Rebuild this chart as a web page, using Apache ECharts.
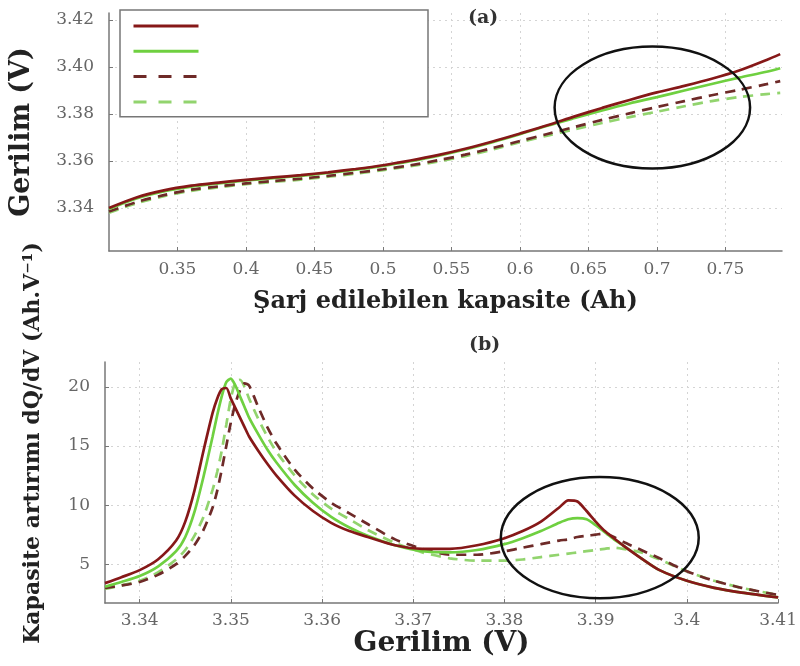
<!DOCTYPE html>
<html><head><meta charset="utf-8">
<script src="https://cdn.jsdelivr.net/npm/echarts@6/dist/echarts.min.js"></script>
<style>html,body{margin:0;padding:0;background:#fff}#c{width:800px;height:666px}</style>
</head><body><div id="c"></div>
<script>
// ---------- (a) Gerilim vs Şarj edilebilen kapasite ----------
const capacity = [0.30,0.32,0.34,0.36,0.38,0.40,0.42,0.44,0.46,0.48,0.50,0.52,0.54,0.56,0.58,0.60,0.62,0.64,0.66,0.68,0.70,0.72,0.74,0.76,0.78,0.79];
const vSolidRed   = [3.3400,3.3445,3.3475,3.3495,3.3508,3.3520,3.3530,3.3540,3.3552,3.3566,3.3582,3.3602,3.3625,3.3652,3.3683,3.3717,3.3752,3.3790,3.3826,3.3860,3.3892,3.3920,3.3950,3.3985,3.4030,3.4055];
const vSolidGreen = [3.3396,3.3441,3.3471,3.3491,3.3505,3.3517,3.3527,3.3537,3.3549,3.3563,3.3579,3.3599,3.3622,3.3649,3.3680,3.3714,3.3750,3.3783,3.3815,3.3845,3.3872,3.3900,3.3928,3.3955,3.3980,3.3995];
const vDashRed    = [3.3385,3.3425,3.3455,3.3478,3.3492,3.3505,3.3515,3.3525,3.3537,3.3550,3.3565,3.3582,3.3603,3.3627,3.3655,3.3685,3.3715,3.3745,3.3775,3.3803,3.3830,3.3855,3.3880,3.3903,3.3927,3.3940];
const vDashGreen  = [3.3380,3.3420,3.3450,3.3473,3.3488,3.3501,3.3511,3.3521,3.3533,3.3546,3.3561,3.3578,3.3598,3.3621,3.3649,3.3680,3.3708,3.3735,3.3762,3.3787,3.3810,3.3833,3.3855,3.3872,3.3885,3.3890];
const capTicks = [0.35,0.4,0.45,0.5,0.55,0.6,0.65,0.7,0.75];
const voltTicksA = [3.34,3.36,3.38,3.40,3.42];

// ---------- (b) dQ/dV vs Gerilim ----------
const voltage = [3.3362,3.338,3.340,3.342,3.344,3.345,3.346,3.347,3.348,3.3485,3.349,3.3495,3.350,3.3505,3.351,3.3515,3.352,3.353,3.354,3.355,3.357,3.359,3.361,3.363,3.365,3.368,3.371,3.374,3.377,3.380,3.382,3.384,3.386,3.387,3.388,3.389,3.390,3.391,3.392,3.393,3.395,3.397,3.400,3.403,3.406,3.410];
const qSolidRed   = [3.4,3.9,4.5,5.4,7.0,8.6,11.2,14.6,17.8,19.0,19.8,19.9,19.0,18.2,17.4,16.6,15.8,14.6,13.5,12.5,10.8,9.5,8.5,7.8,7.3,6.6,6.3,6.3,6.6,7.2,7.8,8.6,9.8,10.4,10.3,9.5,8.6,7.8,7.2,6.6,5.5,4.5,3.6,3.0,2.6,2.2];
const qSolidGreen = [3.1,3.5,4.0,4.8,6.1,7.3,9.4,12.4,15.8,17.6,19.2,20.4,20.7,20.1,19.2,18.3,17.4,16.0,14.7,13.6,11.7,10.2,9.0,8.1,7.4,6.6,6.1,6.0,6.2,6.7,7.2,7.8,8.5,8.8,8.9,8.8,8.3,7.7,7.1,6.6,5.5,4.5,3.6,3.0,2.6,2.2];
const qDashRed    = [3.0,3.2,3.5,4.1,5.0,5.7,6.6,7.9,9.8,11.2,13.0,15.0,17.0,18.6,19.7,20.3,20.1,18.3,16.6,15.2,13.0,11.4,10.2,9.3,8.4,7.1,6.3,5.8,5.8,6.1,6.4,6.7,7.0,7.1,7.3,7.4,7.5,7.6,7.3,6.9,6.2,5.5,4.4,3.6,3.0,2.4];
const qDashGreen  = [2.9,3.2,3.6,4.3,5.4,6.2,7.4,9.0,11.3,12.8,14.6,16.8,19.0,20.4,20.6,20.0,19.0,17.3,15.8,14.5,12.5,10.9,9.7,8.8,7.9,6.8,6.0,5.5,5.3,5.3,5.4,5.6,5.8,5.9,6.0,6.1,6.2,6.3,6.4,6.3,6.0,5.4,4.4,3.6,3.0,2.4];
const voltTicksB = [3.34,3.35,3.36,3.37,3.38,3.39,3.4,3.41];
const dqTicks = [5,10,15,20];

const seriesNames = ['Hücre 1','Hücre 2','Hücre 3','Hücre 4'];
const colors = ['#861818','#6fd040','#6e2a28','#92d46e'];
const styles = ['solid','solid',[10,7],[10,7]];
const legendStyles = ['solid','solid',[13,12],[13,12]];

const zip = (xs, ys) => xs.map((x, i) => [x, ys[i]]);
const serif = 'DejaVu Serif';

const chart = echarts.init(document.getElementById('c'), null, {renderer: 'canvas'});

function axisCommon(ticks, fmt, margin) {
  return {
    axisLine: {show: true, onZero: false, lineStyle: {color: '#777', width: 1.5}},
    axisTick: {show: true, inside: true, length: 4, customValues: ticks, lineStyle: {color: '#777'}},
    axisLabel: {customValues: ticks, formatter: fmt, margin: margin, fontFamily: serif, fontSize: 17, color: '#666'},
    splitLine: {show: true, lineStyle: {color: '#d4d4d4', type: [2, 4], width: 1}}
  };
}

const aData = [vSolidRed, vSolidGreen, vDashRed, vDashGreen];
const bData = [qSolidRed, qSolidGreen, qDashRed, qDashGreen];

const series = [];
for (let i = 0; i < 4; i++) {
  series.push({
    name: seriesNames[i], type: 'line', xAxisIndex: 0, yAxisIndex: 0,
    data: zip(capacity, aData[i]), showSymbol: false, symbol: 'none', smooth: 0.3,
    lineStyle: {color: colors[i], width: 2.7, type: styles[i]}, itemStyle: {color: colors[i]},
    z: 10 - i
  });
}
for (let i = 0; i < 4; i++) {
  series.push({
    name: seriesNames[i], type: 'line', xAxisIndex: 1, yAxisIndex: 1,
    data: zip(voltage, bData[i]), showSymbol: false, symbol: 'none', smooth: 0.25,
    lineStyle: {color: colors[i], width: 2.7, type: styles[i]}, itemStyle: {color: colors[i]},
    z: 10 - i
  });
}

chart.setOption({
  animation: false,
  backgroundColor: '#fff',
  textStyle: {fontFamily: serif},
  grid: [
    {left: 107, top: 13, width: 675, height: 238},
    {left: 105, top: 362, width: 677, height: 241}
  ],
  legend: {
    left: 120, top: 10, orient: 'vertical',
    data: seriesNames.map((n, i) => ({name: n, lineStyle: {type: legendStyles[i], width: 3}})),
    formatter: () => '',
    itemWidth: 65, itemHeight: 12, itemGap: 14.5,
    padding: [10, 228, 10, 12],
    backgroundColor: '#fff', borderColor: '#777', borderWidth: 1.5,
    itemStyle: {opacity: 0, borderWidth: 0},
    textStyle: {fontSize: 1},
    selectedMode: false
  },
  xAxis: [
    Object.assign({type: 'value', gridIndex: 0, min: 0.3, max: 0.7913,
      name: 'Şarj edilebilen kapasite (Ah)', nameLocation: 'middle', nameGap: 39,
      nameTextStyle: {fontFamily: serif, fontWeight: 'bold', fontSize: 24, color: '#222'}},
      axisCommon(capTicks, v => String(+v.toFixed(2)), 10)),
    Object.assign({type: 'value', gridIndex: 1, min: 3.3362, max: 3.41,
      name: 'Gerilim (V)', nameLocation: 'middle', nameGap: 27,
      nameTextStyle: {fontFamily: serif, fontWeight: 'bold', fontSize: 28, color: '#222'}},
      axisCommon(voltTicksB, v => String(+v.toFixed(2)), 9))
  ],
  yAxis: [
    Object.assign({type: 'value', gridIndex: 0, min: 3.3217, max: 3.423,
      name: 'Gerilim (V)', nameLocation: 'middle', nameGap: 74,
      nameTextStyle: {fontFamily: serif, fontWeight: 'bold', fontSize: 27, color: '#222'}},
      axisCommon(voltTicksA, v => v.toFixed(2), 15)),
    Object.assign({type: 'value', gridIndex: 1, min: 1.72, max: 22.1},
      axisCommon(dqTicks, v => String(v), 15))
  ],
  series: series
});

// annotations: panel labels, long y title, ellipses (positioned from data coordinates)
const p = (g, pt) => chart.convertToPixel({gridIndex: g}, pt);
function ellipseFrom(g, x0, x1, y0, y1) {
  const a = p(g, [x0, y0]), b = p(g, [x1, y1]);
  return {type: 'ellipse', silent: true, z: 50,
    shape: {cx: (a[0] + b[0]) / 2, cy: (a[1] + b[1]) / 2, rx: Math.abs(b[0] - a[0]) / 2, ry: Math.abs(b[1] - a[1]) / 2},
    style: {fill: 'none', stroke: '#111', lineWidth: 2.5}};
}
chart.setOption({
  graphic: [
    ellipseFrom(0, 0.6253, 0.768, 3.4087, 3.3568),
    ellipseFrom(1, 3.3796, 3.4013, 12.37, 2.12),
    {type: 'text', left: 468, top: 9, z: 60, style: {text: '(a)', font: 'bold 19px "DejaVu Serif"', fill: '#333'}},
    {type: 'text', left: 469, top: 336, z: 60, style: {text: '(b)', font: 'bold 19px "DejaVu Serif"', fill: '#333'}},
    {type: 'text', x: 33, y: 443, rotation: Math.PI / 2, z: 60,
      style: {text: 'Kapasite artırımı dQ/dV (Ah.V⁻¹)', font: 'bold 22px "DejaVu Serif"', fill: '#222', align: 'center', verticalAlign: 'middle'}}
  ]
});
</script></body></html>
